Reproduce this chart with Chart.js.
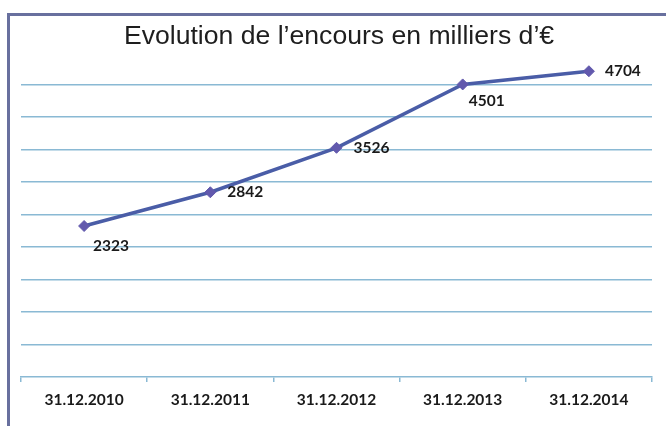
<!DOCTYPE html>
<html>
<head>
<meta charset="utf-8">
<script src="https://cdn.jsdelivr.net/npm/chart.js@4.4.1/dist/chart.umd.min.js"></script>
<style>
html,body{margin:0;padding:0;background:#fff;}
#wrap{position:relative;width:666px;height:426px;}
</style>
</head>
<body>
<div id="wrap"><canvas id="c" width="666" height="426"></canvas></div>
<script>
const titleText = "Evolution de l’encours en milliers d’€";
const categories = ["31.12.2010", "31.12.2011", "31.12.2012", "31.12.2013", "31.12.2014"];
const encours = [2323, 2842, 3526, 4501, 4704];
const yMin = 0, yMax = 5000, yStep = 500;
// label placement per point: [dx, dy]
const labelOffsets = [[9, 20], [17, 0], [17, 0], [6, 17], [16, 0]];

const gridBlue = '#8ab9d4';

const framePlugin = {
  id: 'frame',
  beforeDraw(chart) {
    const ctx = chart.ctx;
    ctx.save();
    ctx.fillStyle = '#fff';
    ctx.fillRect(0, 0, chart.width, chart.height);
    ctx.strokeStyle = '#68709e';
    ctx.lineWidth = 3;
    ctx.beginPath();
    ctx.moveTo(8.5, 426);
    ctx.lineTo(8.5, 14.5);
    ctx.lineTo(666, 14.5);
    ctx.stroke();
    ctx.fillStyle = '#1e1e1e';
    ctx.font = '26.6px "Liberation Sans", Arial, sans-serif';
    ctx.textAlign = 'center';
    ctx.textBaseline = 'alphabetic';
    ctx.fillText(titleText, 339, 44);
    ctx.restore();
  }
};

const labelPlugin = {
  id: 'pointLabels',
  afterDatasetsDraw(chart) {
    const ctx = chart.ctx;
    const meta = chart.getDatasetMeta(0);
    ctx.save();
    ctx.fillStyle = '#1a1a1a';
    ctx.font = 'bold 15.5px Lato, "Liberation Sans", sans-serif';
    ctx.textAlign = 'left';
    ctx.textBaseline = 'middle';
    meta.data.forEach((pt, i) => {
      const o = labelOffsets[i];
      ctx.fillText(String(encours[i]), pt.x + o[0], pt.y + o[1]);
    });
    ctx.restore();
  }
};

new Chart(document.getElementById('c'), {
  type: 'line',
  data: {
    labels: categories,
    datasets: [{
      data: encours,
      borderColor: '#4a5da7',
      borderWidth: 3.5,
      pointStyle: 'rectRot',
      pointRadius: 5.5,
      pointBackgroundColor: '#6259ad',
      pointBorderColor: '#6259ad',
      pointBorderWidth: 1,
      tension: 0,
      fill: false
    }]
  },
  options: {
    responsive: false,
    animation: false,
    devicePixelRatio: 1,
    layout: { padding: { left: 21, right: 14, top: 52, bottom: 0 } },
    plugins: { legend: { display: false }, title: { display: false }, tooltip: { enabled: false } },
    scales: {
      x: {
        type: 'category',
        offset: true,
        afterFit(scale) { scale.height = 49; },
        grid: {
          offset: true,
          drawOnChartArea: false,
          drawTicks: true,
          tickLength: 5,
          color: gridBlue,
          lineWidth: 1.5
        },
        border: { display: true, color: gridBlue, width: 1.5 },
        ticks: {
          color: '#1a1a1a',
          font: { family: 'Lato, "Liberation Sans", sans-serif', size: 15.5, weight: 'bold' },
          padding: 9,
          maxRotation: 0
        }
      },
      y: {
        min: yMin,
        max: yMax,
        afterFit(scale) { scale.width = 0; },
        ticks: { display: false, stepSize: yStep },
        border: { display: false },
        grid: {
          drawTicks: false,
          lineWidth: 1.5,
          color(ctx) {
            const v = ctx.tick && ctx.tick.value;
            if (v === yMin || v === yMax) return 'rgba(0,0,0,0)';
            return gridBlue;
          }
        }
      }
    }
  },
  plugins: [framePlugin, labelPlugin]
});
</script>
</body>
</html>
